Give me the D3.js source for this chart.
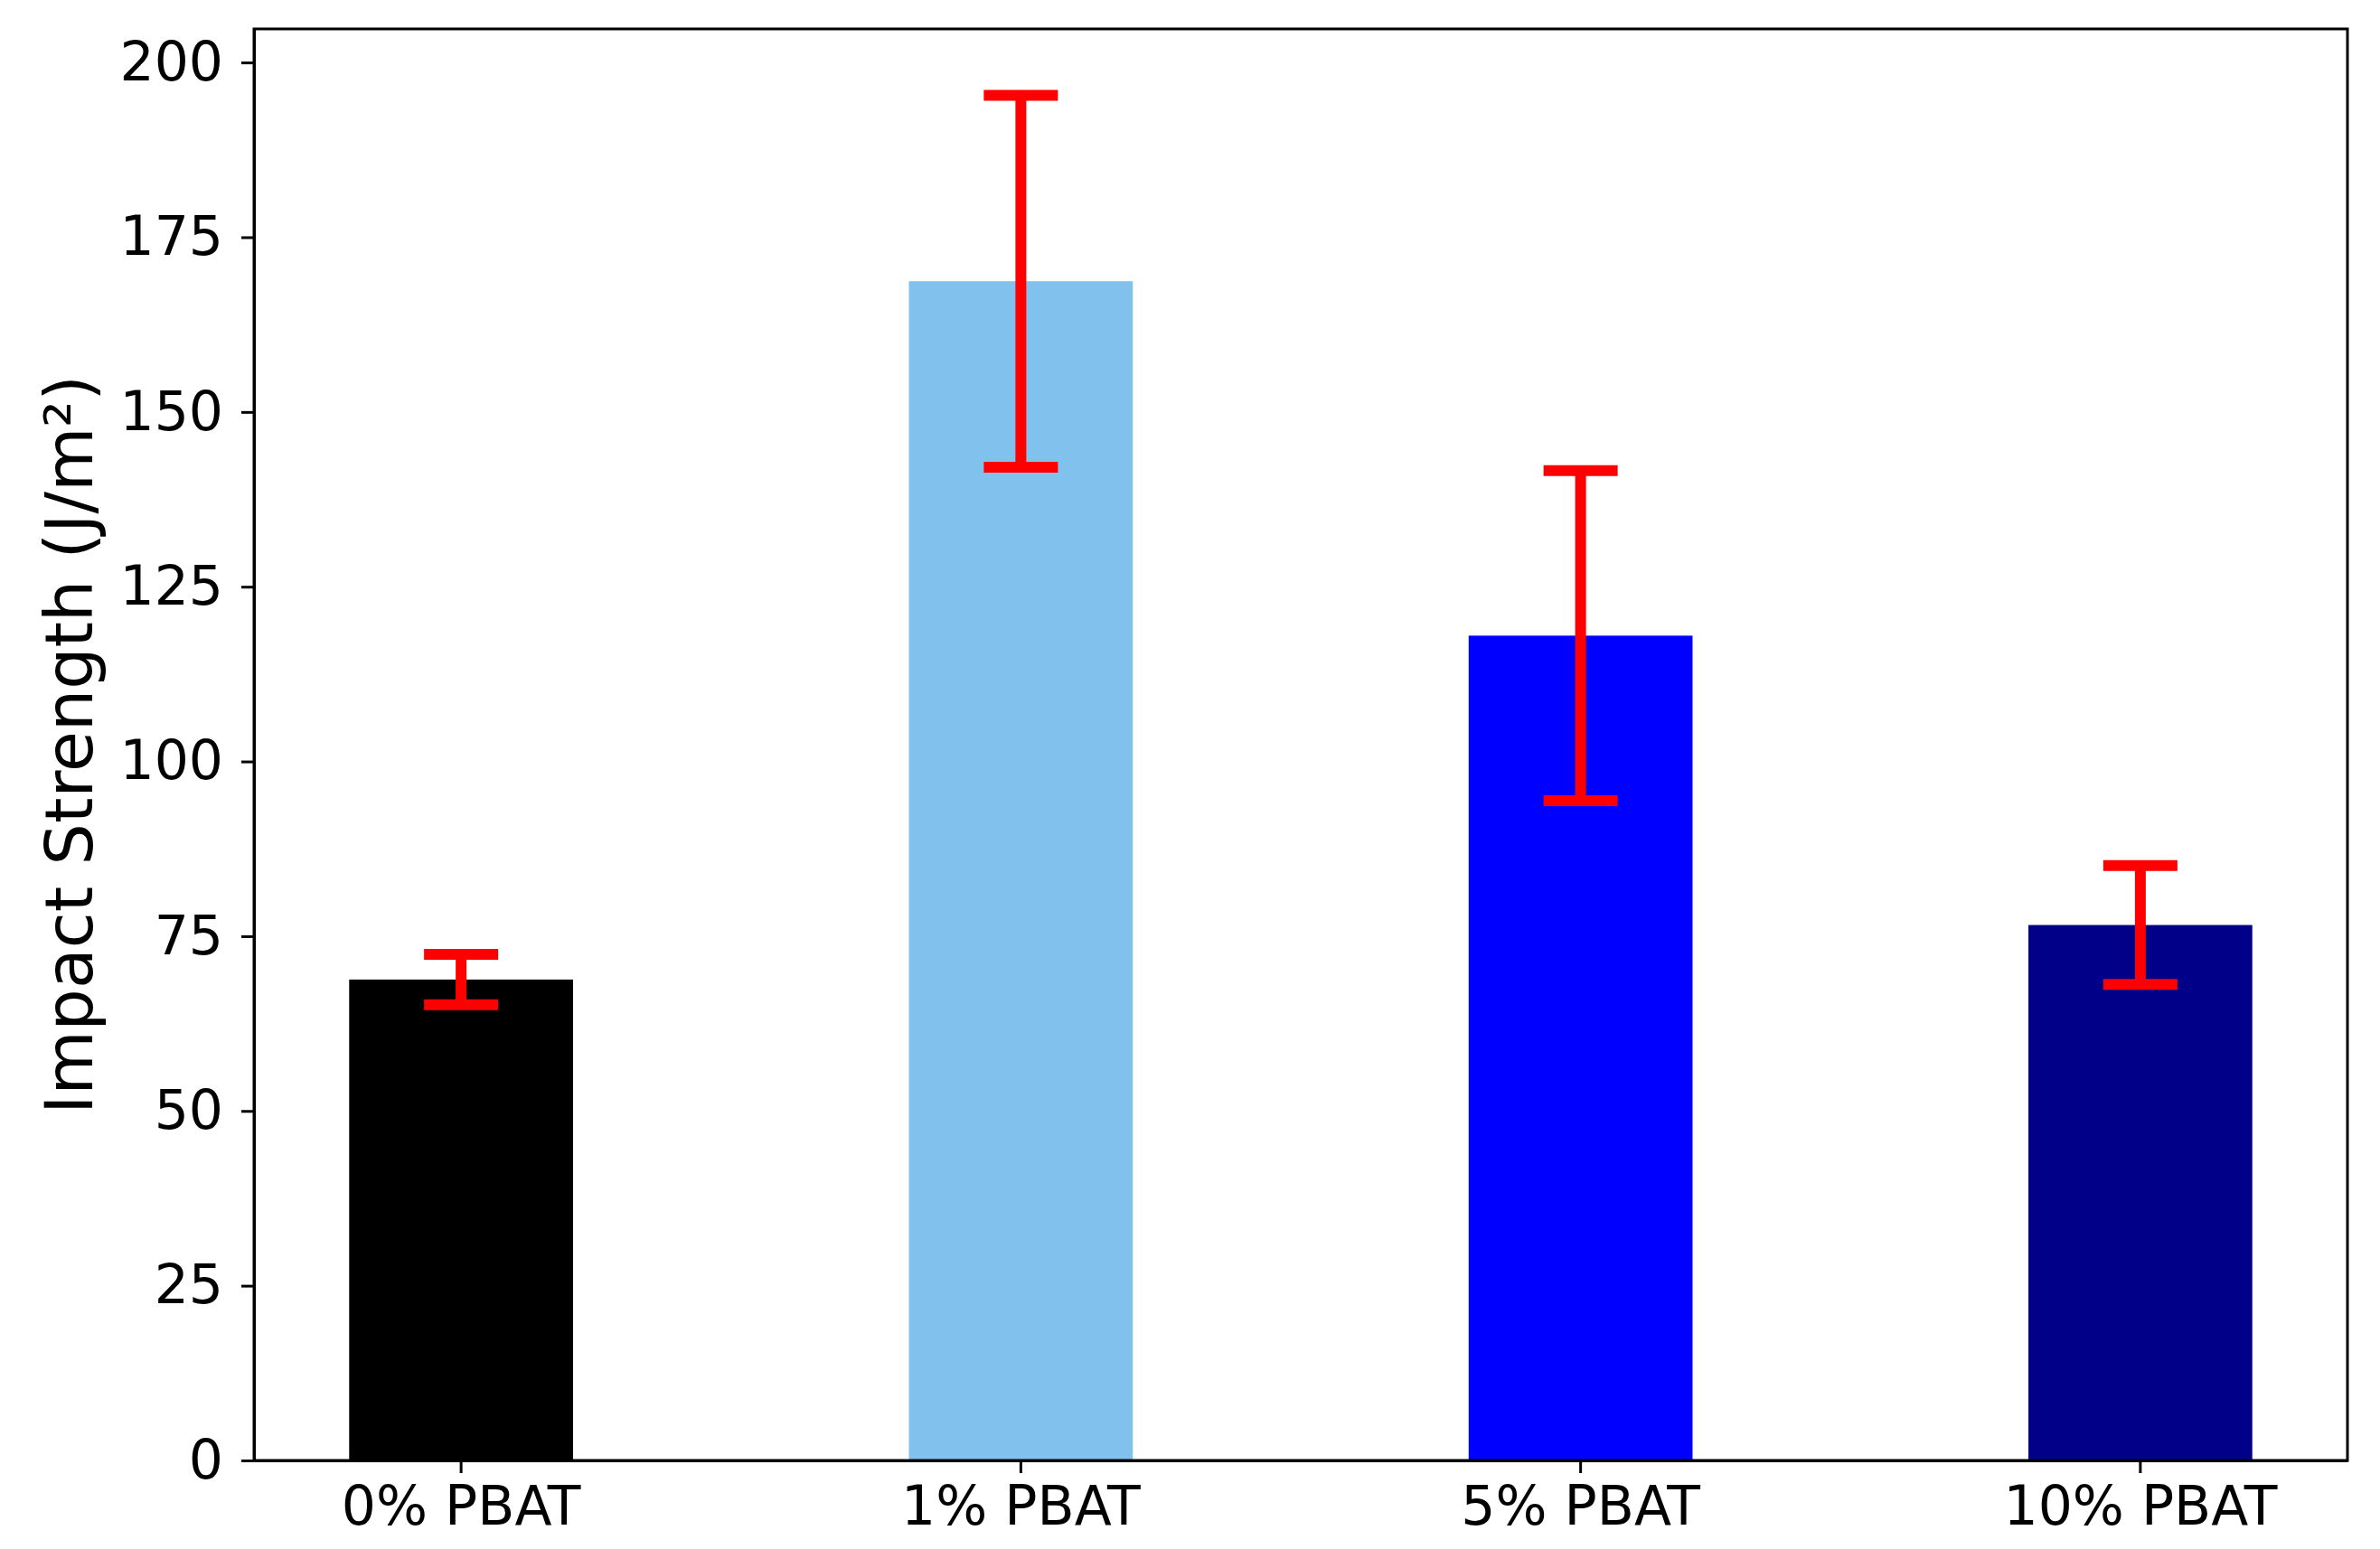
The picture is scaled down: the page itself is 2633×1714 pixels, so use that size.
<html lang="en">
<head>
<meta charset="utf-8">
<title>Impact Strength</title>
<script src="https://cdn.jsdelivr.net/npm/d3@7"></script>
<style>
  body { margin: 0; background: #fff; }
  svg { display: block; }
  .axis text { font-family: "DejaVu Sans", sans-serif; font-size: 60px; fill: #000; }
  .axis path, .axis line { stroke: #000; stroke-width: 3px; }
</style>
</head>
<body>
<script>
// data
var categories = ["0% PBAT", "1% PBAT", "5% PBAT", "10% PBAT"];
var means = [68.8, 168.7, 118.0, 76.6];
var errors = [3.6, 26.6, 23.6, 8.5];
var barColors = ["#000000", "#80c1ee", "#0000ff", "#000088"];
var yTicks = [0, 25, 50, 75, 100, 125, 150, 175, 200];

var w = 2633, h = 1714;
var plotLeft = 281, plotRight = 2597, plotTop = 32, plotBottom = 1616;

var svg = d3.select("body").append("svg")
  .attr("width", w)
  .attr("height", h);

svg.append("rect").attr("width", w).attr("height", h).attr("fill", "#fff");

var xScale = d3.scaleBand()
  .domain(categories)
  .range([plotLeft, plotRight])
  .paddingInner(0.6)
  .paddingOuter(0.17);

var yScale = d3.scaleLinear()
  .domain([0, 204.8])
  .range([plotBottom, plotTop]);

// bars
svg.selectAll("rect.bar")
  .data(categories)
  .enter()
  .append("rect")
  .attr("class", "bar")
  .attr("x", function(d) { return xScale(d); })
  .attr("width", xScale.bandwidth())
  .attr("y", function(d, i) { return yScale(means[i]); })
  .attr("height", function(d, i) { return yScale(0) - yScale(means[i]); })
  .attr("fill", function(d, i) { return barColors[i]; });

// error bars
var cap = 41;
var eb = svg.selectAll("g.err")
  .data(categories)
  .enter()
  .append("g")
  .attr("class", "err")
  .attr("stroke", "#ff0000")
  .attr("stroke-width", 12);

eb.append("line")
  .attr("x1", function(d) { return xScale(d) + xScale.bandwidth() / 2; })
  .attr("x2", function(d) { return xScale(d) + xScale.bandwidth() / 2; })
  .attr("y1", function(d, i) { return yScale(means[i] - errors[i]); })
  .attr("y2", function(d, i) { return yScale(means[i] + errors[i]); });

[-1, 1].forEach(function(s) {
  eb.append("line")
    .attr("x1", function(d) { return xScale(d) + xScale.bandwidth() / 2 - cap; })
    .attr("x2", function(d) { return xScale(d) + xScale.bandwidth() / 2 + cap; })
    .attr("y1", function(d, i) { return yScale(means[i] + s * errors[i]); })
    .attr("y2", function(d, i) { return yScale(means[i] + s * errors[i]); });
});

// axes
var yAxis = d3.axisLeft(yScale)
  .tickValues(yTicks)
  .tickSize(14)
  .tickPadding(20)
  .tickSizeOuter(0);
svg.append("g")
  .attr("class", "axis")
  .attr("transform", "translate(" + plotLeft + ",0)")
  .call(yAxis);

var xAxis = d3.axisBottom(xScale)
  .tickSize(14)
  .tickPadding(14)
  .tickSizeOuter(0);
svg.append("g")
  .attr("class", "axis")
  .attr("transform", "translate(0," + plotBottom + ")")
  .call(xAxis);

// frame
svg.append("rect")
  .attr("x", plotLeft)
  .attr("y", plotTop)
  .attr("width", plotRight - plotLeft)
  .attr("height", plotBottom - plotTop)
  .attr("fill", "none")
  .attr("stroke", "#000")
  .attr("stroke-width", 3);

svg.append("text")
  .attr("transform", "translate(102," + (plotTop + plotBottom) / 2 + ") rotate(-90)")
  .attr("text-anchor", "middle")
  .attr("font-family", "DejaVu Sans, sans-serif")
  .attr("font-size", 73)
  .text("Impact Strength (J/m²)");
</script>
</body>
</html>
